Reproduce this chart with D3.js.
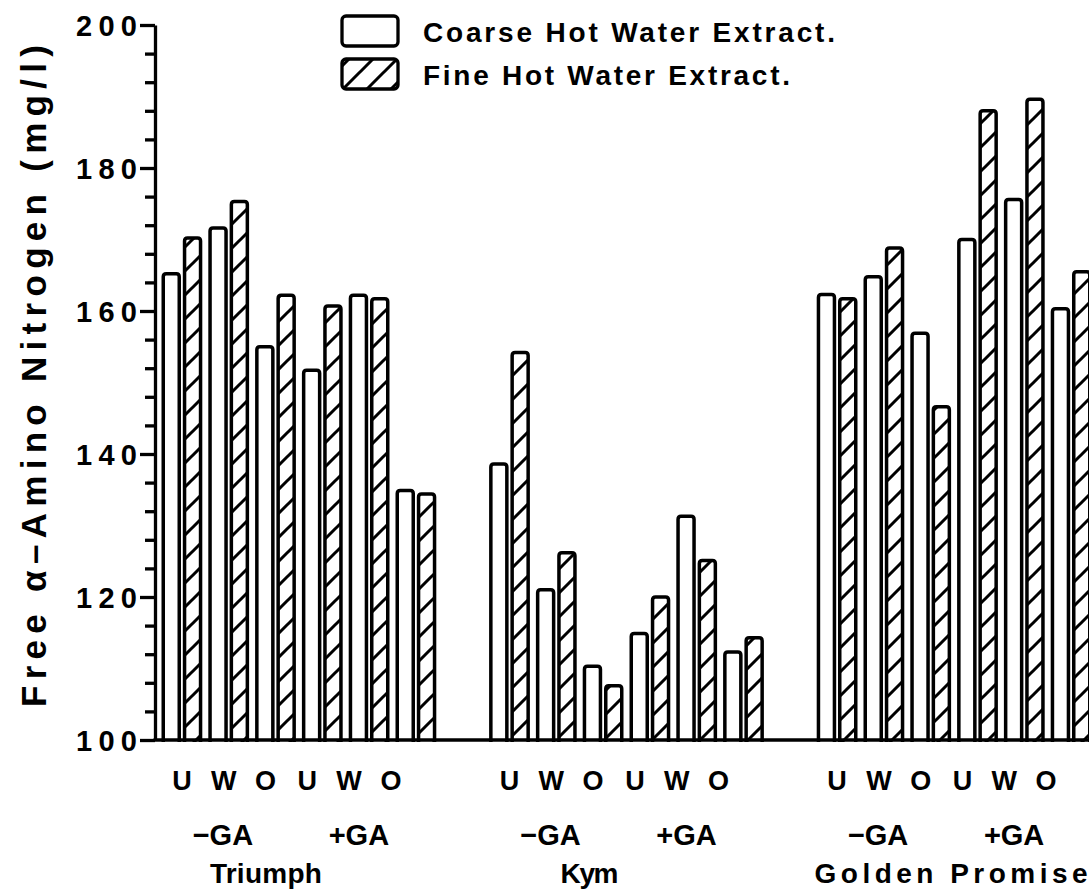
<!DOCTYPE html>
<html>
<head>
<meta charset="utf-8">
<script src="https://cdn.jsdelivr.net/npm/d3@7"></script>
<style>
  html, body { margin: 0; padding: 0; background: #fff; }
  svg { display: block; }
  text { font-family: "Liberation Sans", Arial, sans-serif; font-weight: bold; fill: #000; }
</style>
</head>
<body>
<svg id="chart" width="1089" height="893"></svg>
<script>
// Barley cultivars and malting treatments
const cultivars = ["Triumph", "Kym", "Golden Promise"];
const treatments = ["U", "W", "O", "U", "W", "O"];
const gaLabels = ["\u2212GA", "+GA"];
const seriesNames = ["Coarse Hot Water Extract.", "Fine Hot Water Extract."];

// Free alpha-amino nitrogen (mg/l), six treatments per cultivar
const coarseValues = [
  165.2, 171.6, 155.0, 151.7, 162.2, 134.9,
  138.6, 121.0, 110.3, 114.9, 131.3, 112.3,
  162.3, 164.8, 156.9, 170.0, 175.6, 160.3
];
const fineValues = [
  170.2, 175.3, 162.2, 160.7, 161.7, 134.4,
  154.2, 126.2, 107.6, 120.0, 125.1, 114.3,
  161.7, 168.8, 146.6, 188.0, 189.6, 165.5
];

const yMajorTicks = [100, 120, 140, 160, 180, 200];
const yMinorTicks = [104, 108, 112, 116, 124, 128, 132, 136, 144, 148, 152, 156,
                     164, 168, 172, 176, 184, 188, 192, 196];

// ---- layout ----
const W = 1089, H = 893;
const axisX = 155, baseY = 740, topY = 25;
const svg = d3.select("#chart");

// Slot keys: six pairs per cultivar with one empty slot between cultivars
const slotKeys = [];
cultivars.forEach((c, ci) => {
  treatments.forEach((t, ti) => slotKeys.push(c + "|" + ti));
  if (ci < cultivars.length - 1) slotKeys.push("gap" + ci);
});

const x = d3.scaleBand().domain(slotKeys).range([158.5, 1094.5])
  .paddingInner(0.203).paddingOuter(0.1015);
const xInner = d3.scaleBand().domain(["coarse", "fine"]).range([0, x.bandwidth()])
  .paddingInner(0.249);
const y = d3.scaleLinear().domain([100, 200]).range([baseY, topY]);

// Records
const records = [];
cultivars.forEach((c, ci) => {
  treatments.forEach((t, ti) => {
    const idx = ci * treatments.length + ti;
    records.push({ key: c + "|" + ti, series: "coarse", value: coarseValues[idx] });
    records.push({ key: c + "|" + ti, series: "fine", value: fineValues[idx] });
  });
});

// Hatch pattern
const defs = svg.append("defs");
const pat = defs.append("pattern").attr("id", "hatch")
  .attr("patternUnits", "userSpaceOnUse").attr("width", 24).attr("height", 24);
pat.append("rect").attr("width", 24).attr("height", 24).attr("fill", "#fff");
pat.append("path").attr("d", "M-6,6 L6,-6 M0,24 L24,0 M18,30 L30,18")
  .attr("stroke", "#000").attr("stroke-width", 3).attr("fill", "none");

// Bar outline with rounded top corners, open at the bottom
function barPath(x0, w, yTop, yBot) {
  const r = 3;
  return `M${x0},${yBot + 2} V${yTop + r} Q${x0},${yTop} ${x0 + r},${yTop} ` +
         `H${x0 + w - r} Q${x0 + w},${yTop} ${x0 + w},${yTop + r} V${yBot + 2}`;
}

svg.append("g").selectAll("path").data(records).join("path")
  .attr("d", d => barPath(x(d.key) + xInner(d.series), xInner.bandwidth(), y(d.value), baseY))
  .attr("fill", d => d.series === "fine" ? "url(#hatch)" : "#fff")
  .attr("stroke", "#000").attr("stroke-width", 3.5).attr("stroke-linejoin", "round");

// Y axis
const yAxisG = svg.append("g").attr("transform", `translate(${axisX},0)`)
  .call(d3.axisLeft(y).tickValues(yMajorTicks).tickSize(15).tickSizeOuter(0).tickPadding(3)
    .tickFormat(d3.format("d")));
yAxisG.select(".domain").attr("stroke-width", 3.3);
yAxisG.selectAll(".tick line").attr("stroke-width", 3.3);
yAxisG.selectAll(".tick text").attr("font-size", 29).attr("font-family", null)
  .attr("textLength", 61).attr("lengthAdjust", "spacing").attr("dy", "0.36em");

const yMinorG = svg.append("g").attr("transform", `translate(${axisX},0)`)
  .call(d3.axisLeft(y).tickValues(yMinorTicks).tickSize(10).tickSizeOuter(0).tickFormat(""));
yMinorG.select(".domain").remove();
yMinorG.selectAll(".tick line").attr("stroke-width", 3.3);

// Baseline
svg.append("line").attr("x1", axisX - 1.5).attr("x2", W).attr("y1", baseY).attr("y2", baseY)
  .attr("stroke", "#000").attr("stroke-width", 3.5);

// Y title
svg.append("text")
  .attr("transform", `translate(46,${376}) rotate(-90)`)
  .attr("text-anchor", "middle").attr("font-size", 35)
  .attr("textLength", 662).attr("lengthAdjust", "spacing")
  .text("Free \u03b1\u2013Amino Nitrogen (mg/l)");

// X labels: treatment letters, GA rows, cultivar names
const nameOffset = [84, 80, 114];
const nameLength = [112, 58, 273];
cultivars.forEach((c, ci) => {
  const first = x(c + "|0") + x.bandwidth() / 2;
  const pos = d3.scalePoint().domain(d3.range(6)).range([first, first + 209]);
  svg.append("g").selectAll("text").data(treatments).join("text")
    .attr("x", (d, i) => pos(i)).attr("y", 790)
    .attr("text-anchor", "middle").attr("font-size", 27).text(d => d);
  svg.append("g").selectAll("text").data(gaLabels).join("text")
    .attr("x", (d, i) => first + (i === 0 ? 41 : 177)).attr("y", 845)
    .attr("text-anchor", "middle").attr("font-size", 29)
    .text(d => d);
  svg.append("text")
    .attr("x", first + nameOffset[ci]).attr("y", 883)
    .attr("text-anchor", "middle").attr("font-size", 28)
    .attr("textLength", nameLength[ci]).attr("lengthAdjust", "spacing")
    .text(c);
});

// Legend
const legend = svg.append("g");
seriesNames.forEach((name, i) => {
  const ly = 16 + i * 43;
  legend.append("rect").attr("x", 342).attr("y", ly).attr("width", 56).attr("height", 30)
    .attr("rx", 4).attr("fill", i === 0 ? "#fff" : "url(#hatch)")
    .attr("stroke", "#000").attr("stroke-width", 3.3);
  legend.append("text").attr("x", 423).attr("y", ly + 26)
    .attr("font-size", 28).attr("textLength", i === 0 ? 412 : 367)
    .attr("lengthAdjust", "spacing").text(name);
});
</script>
</body>
</html>
